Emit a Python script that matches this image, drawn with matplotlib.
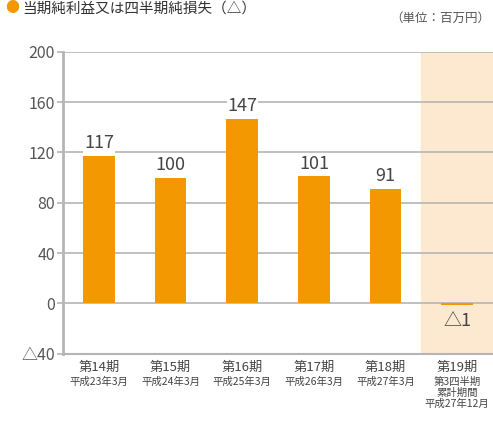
import matplotlib.pyplot as plt
import numpy as np

plt.rcParams['font.family'] = ['Noto Sans CJK JP', 'DejaVu Sans']

periods = ['第14期', '第15期', '第16期', '第17期', '第18期', '第19期']
dates = ['平成23年3月', '平成24年3月', '平成25年3月', '平成26年3月', '平成27年3月',
         '第3四半期\n累計期間\n平成27年12月']
values = [117, 100, 147, 101, 91, -1]
labels = ['117', '100', '147', '101', '91', '△1']
yticks = [-40, 0, 40, 80, 120, 160, 200]
ytick_labels = ['△40', '0', '40', '80', '120', '160', '200']

fig = plt.figure(figsize=(4.93, 4.32), dpi=100)
ax = fig.add_axes([0.128, 0.181, 0.872, 0.699])

x = np.arange(len(periods))
ax.axvspan(4.5, 5.5, color='#fde8d0', zorder=0)
for yv in yticks:
    ax.axhline(yv, color='#b5b5b5', lw=1.2, zorder=1)
ax.bar(x, values, width=0.44, color='#f39800', zorder=2)

for i, v in enumerate(values):
    if v >= 0:
        ax.text(x[i], v + 3, labels[i], ha='center', va='bottom', fontsize=13,
                color='#444444', zorder=3,
                bbox=dict(facecolor='white', edgecolor='none', pad=0.5))
    else:
        ax.text(x[i], v - 6, labels[i], ha='center', va='top', fontsize=13,
                color='#444444', zorder=3)

ax.set_xlim(-0.5, 5.5)
ax.set_ylim(-40, 200)
ax.set_yticks(yticks)
ax.set_yticklabels(ytick_labels, fontsize=11.5, color='#555555')
ax.set_xticks(x)
ax.set_xticklabels([])
ax.tick_params(axis='y', length=4, width=1.2, color='#b5b5b5', pad=2)
ax.tick_params(axis='x', length=0)
for s in ['top', 'right']:
    ax.spines[s].set_visible(False)
ax.spines['left'].set_color('#b5b5b5')
ax.spines['left'].set_linewidth(2)
ax.spines['bottom'].set_color('#b5b5b5')
ax.spines['bottom'].set_linewidth(1.5)

tr = ax.get_xaxis_transform()
for i in range(len(periods)):
    ax.text(x[i], -0.025, periods[i], transform=tr, ha='center', va='top',
            fontsize=9.5, color='#444444')
    ax.text(x[i], -0.075, dates[i], transform=tr, ha='center', va='top',
            fontsize=7.5, color='#444444', linespacing=1.15)

fig.text(0.994, 0.958, '（単位：百万円）', ha='right', va='center',
         fontsize=9, color='#555555')
fig.text(0.025, 0.997, '●', ha='center', va='top', fontsize=10, color='#f39800')
fig.text(0.045, 0.997, '当期純利益又は四半期純損失（△）', ha='left', va='top',
         fontsize=10.5, color='#333333')

fig.savefig('out.png', dpi=100)
